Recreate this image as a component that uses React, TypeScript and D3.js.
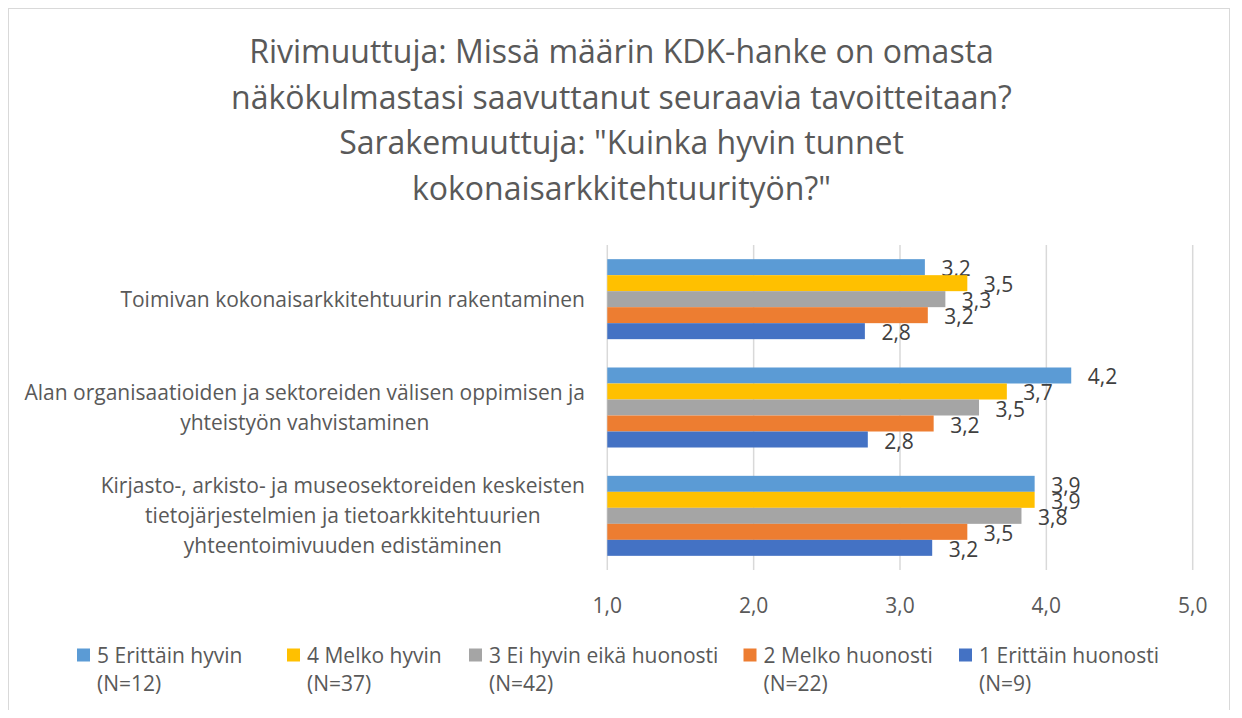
import React, { useEffect, useRef } from 'react'
import * as d3 from 'd3'

const titleLines = [
  'Rivimuuttuja: Missä määrin KDK-hanke on omasta',
  'näkökulmastasi saavuttanut seuraavia tavoitteitaan?',
  'Sarakemuuttuja: "Kuinka hyvin tunnet',
  'kokonaisarkkitehtuurityön?"',
]

const categories = [
  ['Toimivan kokonaisarkkitehtuurin rakentaminen'],
  ['Alan organisaatioiden ja sektoreiden välisen oppimisen ja', 'yhteistyön vahvistaminen'],
  ['Kirjasto-, arkisto- ja museosektoreiden keskeisten', 'tietojärjestelmien ja tietoarkkitehtuurien', 'yhteentoimivuuden edistäminen'],
]

const seriesNames = ['5 Erittäin hyvin', '4 Melko hyvin', '3 Ei hyvin eikä huonosti', '2 Melko huonosti', '1 Erittäin huonosti']
const seriesN = ['(N=12)', '(N=37)', '(N=42)', '(N=22)', '(N=9)']
const seriesColors = ['#5B9BD5', '#FFC000', '#A5A5A5', '#ED7D31', '#4472C4']

const s5 = [3.17, 4.17, 3.92]
const s4 = [3.46, 3.73, 3.92]
const s3 = [3.31, 3.54, 3.83]
const s2 = [3.19, 3.23, 3.46]
const s1 = [2.76, 2.78, 3.22]
const seriesValues = [s5, s4, s3, s2, s1]

const xTicks = [1, 2, 3, 4, 5]

const W = 1222
const H = 702
const FONT = '"Open Sans", "Liberation Sans", sans-serif'

export default function App() {
  const svgRef = useRef<SVGSVGElement>(null)

  useEffect(() => {
    const svg = d3.select(svgRef.current)
    svg.selectAll('*').remove()

    svg.append('rect')
      .attr('x', 0.5).attr('y', 0.5)
      .attr('width', W - 1).attr('height', H + 20)
      .attr('fill', '#fff').attr('stroke', '#d9d9d9')

    // title
    svg.append('g').selectAll('text').data(titleLines).enter().append('text')
      .attr('x', 613.5)
      .attr('y', (d, i) => 55 + i * 45.7)
      .attr('text-anchor', 'middle')
      .style('font-family', FONT)
      .style('font-size', '32px')
      .style('fill', '#595959')
      .text(d => d)

    const x = d3.scaleLinear().domain([1, 5]).range([599.3, 1184.7])
    const y = d3.scaleBand<number>().domain(d3.range(categories.length))
      .range([237, 562]).paddingInner(0.2615).paddingOuter(0.13075)
    const ys = d3.scaleBand<number>().domain(d3.range(seriesNames.length)).range([0, y.bandwidth()])

    // gridlines
    svg.append('g').selectAll('line').data(xTicks).enter().append('line')
      .attr('x1', d => x(d)).attr('x2', d => x(d))
      .attr('y1', 237).attr('y2', 562)
      .attr('stroke', '#d9d9d9').attr('stroke-width', 1.5)

    const fmt = (v: number) => d3.format('.1f')(v).replace('.', ',')

    // tick labels
    svg.append('g').selectAll('text').data(xTicks).enter().append('text')
      .attr('x', d => x(d)).attr('y', 604.5)
      .attr('text-anchor', 'middle')
      .style('font-family', FONT).style('font-size', '21px').style('fill', '#595959')
      .text(d => fmt(d))

    // bars
    seriesValues.forEach((vals, si) => {
      const g = svg.append('g')
      g.selectAll('rect').data(vals).enter().append('rect')
        .attr('x', x(1))
        .attr('y', (d, ci) => (y(ci) as number) + (ys(si) as number))
        .attr('width', d => x(d) - x(1))
        .attr('height', ys.bandwidth())
        .attr('fill', seriesColors[si])
      g.selectAll('text').data(vals).enter().append('text')
        .attr('x', d => x(d) + 16.5)
        .attr('y', (d, ci) => (y(ci) as number) + (ys(si) as number) + ys.bandwidth() + 1)
        .style('font-family', FONT).style('font-size', '21px').style('fill', '#404040')
        .text(d => fmt(d))
    })

    // category labels, wrapped lines centered in a right-aligned block
    const catG = svg.append('g')
    categories.forEach((lines, ci) => {
      const cy = (y(ci) as number) + y.bandwidth() / 2
      const lh = 30
      const texts = lines.map((ln, li) => catG.append('text')
        .attr('y', cy + (li - (lines.length - 1) / 2) * lh + 7.5)
        .attr('text-anchor', 'middle')
        .style('font-family', FONT).style('font-size', '21px').style('fill', '#595959')
        .text(ln))
      const maxW = d3.max(texts, t => (t.node() as SVGTextElement).getComputedTextLength()) || 0
      texts.forEach(t => t.attr('x', 577 - maxW / 2))
    })

    // legend
    const legendX = [89, 299, 481, 755.5, 971]
    const lg = svg.append('g')
    seriesNames.forEach((name, i) => {
      lg.append('rect')
        .attr('x', legendX[i] - 20).attr('y', 640.5)
        .attr('width', 13).attr('height', 13)
        .attr('fill', seriesColors[i])
      lg.append('text')
        .attr('x', legendX[i]).attr('y', 655)
        .style('font-family', FONT).style('font-size', '21px').style('fill', '#595959')
        .text(name)
      lg.append('text')
        .attr('x', legendX[i]).attr('y', 682.5)
        .style('font-family', FONT).style('font-size', '21px').style('fill', '#595959')
        .text(seriesN[i])
    })
  }, [])

  return (
    <svg ref={svgRef} width={W} height={H} style={{ display: 'block' }} />
  )
}
